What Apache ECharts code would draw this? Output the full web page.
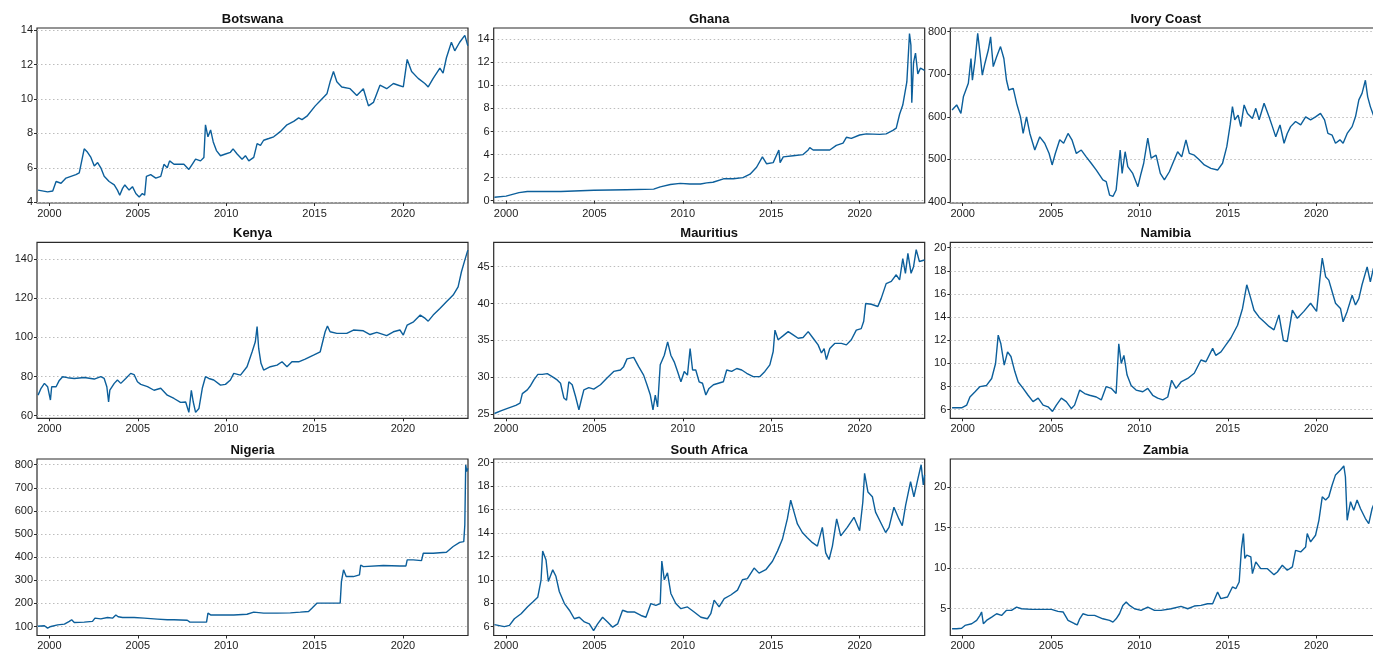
<!DOCTYPE html>
<html>
<head>
<meta charset="utf-8">
<title>Exchange rates</title>
<script src="https://cdn.jsdelivr.net/npm/echarts@6/dist/echarts.min.js"></script>
<style>
  html, body { margin: 0; padding: 0; background: #fff; }
  #main { width: 1373px; height: 652px; }
</style>
</head>
<body>
<div id="main"></div>
<script>
// [year, rate]
var botswana = [[1999.36,4.7],[1999.9,4.6],[2000.19,4.65],[2000.38,5.2],[2000.66,5.1],[2000.94,5.4],[2001.22,5.5],[2001.5,5.6],[2001.69,5.7],[2001.97,7.1],[2002.16,6.9],[2002.35,6.6],[2002.54,6.1],[2002.73,6.3],[2002.91,6.0],[2003.1,5.5],[2003.38,5.2],[2003.67,5.0],[2003.85,4.7],[2003.98,4.4],[2004.14,4.8],[2004.27,5.0],[2004.51,4.7],[2004.7,4.9],[2004.89,4.5],[2005.08,4.3],[2005.26,4.5],[2005.39,4.4],[2005.49,5.5],[2005.73,5.6],[2006.02,5.4],[2006.3,5.5],[2006.48,6.2],[2006.67,6.0],[2006.8,6.4],[2007.05,6.2],[2007.61,6.2],[2007.89,5.9],[2008.08,6.2],[2008.27,6.5],[2008.55,6.4],[2008.74,6.6],[2008.83,8.5],[2008.97,7.8],[2009.12,8.2],[2009.27,7.5],[2009.45,7.0],[2009.68,6.7],[2009.96,6.8],[2010.24,6.9],[2010.39,7.1],[2010.62,6.8],[2010.9,6.5],[2011.09,6.7],[2011.28,6.4],[2011.56,6.6],[2011.75,7.4],[2011.94,7.3],[2012.12,7.6],[2012.41,7.7],[2012.69,7.8],[2013.06,8.1],[2013.44,8.5],[2013.82,8.7],[2014.1,8.9],[2014.29,8.8],[2014.57,9.0],[2015.04,9.6],[2015.32,9.9],[2015.7,10.3],[2015.88,11.0],[2016.07,11.6],[2016.26,11.0],[2016.54,10.7],[2017.01,10.6],[2017.39,10.2],[2017.76,10.6],[2018.05,9.6],[2018.33,9.8],[2018.7,10.8],[2019.08,10.6],[2019.46,10.9],[2019.74,10.8],[2020.02,10.7],[2020.24,12.3],[2020.49,11.6],[2020.86,11.2],[2021.24,10.9],[2021.43,10.7],[2021.71,11.2],[2022.09,11.8],[2022.27,11.5],[2022.46,12.4],[2022.74,13.3],[2022.93,12.8],[2023.21,13.3],[2023.5,13.7],[2023.67,13.1]];
var ghana = [[1999.34,0.3],[2000.0,0.4],[2000.73,0.7],[2001.2,0.8],[2003.1,0.8],[2004.96,0.9],[2006.8,0.95],[2008.35,1.0],[2008.72,1.2],[2009.29,1.4],[2009.85,1.5],[2010.4,1.45],[2011.0,1.45],[2011.35,1.55],[2011.7,1.6],[2012.3,1.9],[2012.86,1.9],[2013.4,2.0],[2013.8,2.3],[2014.17,2.9],[2014.5,3.8],[2014.74,3.2],[2015.11,3.3],[2015.43,4.4],[2015.5,3.3],[2015.68,3.8],[2016.24,3.9],[2016.8,4.0],[2017.09,4.4],[2017.18,4.6],[2017.37,4.4],[2018.31,4.4],[2018.68,4.8],[2019.06,5.0],[2019.25,5.5],[2019.53,5.4],[2020.0,5.7],[2020.38,5.8],[2021.13,5.75],[2021.5,5.8],[2021.88,6.1],[2022.07,6.3],[2022.26,7.5],[2022.44,8.3],[2022.67,10.3],[2022.82,14.5],[2022.9,13.5],[2022.95,8.5],[2023.05,12.0],[2023.16,12.8],[2023.29,11.0],[2023.44,11.5],[2023.67,11.3]];
var ivoryCoast = [[1999.4,616],[1999.66,628],[1999.9,608],[2000.04,647],[2000.32,679],[2000.47,737],[2000.55,686],[2000.7,733],[2000.85,796],[2000.98,749],[2001.11,698],[2001.26,726],[2001.45,757],[2001.58,788],[2001.73,718],[2001.92,741],[2002.14,765],[2002.33,737],[2002.48,686],[2002.61,663],[2002.86,667],[2003.05,632],[2003.27,600],[2003.42,561],[2003.61,600],[2003.8,561],[2004.08,522],[2004.36,553],[2004.64,538],[2004.89,514],[2005.06,487],[2005.24,514],[2005.49,546],[2005.71,538],[2005.96,561],[2006.18,546],[2006.43,514],[2006.71,522],[2006.99,506],[2007.27,491],[2007.56,475],[2007.93,452],[2008.12,448],[2008.31,416],[2008.5,413],[2008.68,428],[2008.91,522],[2009.02,467],[2009.19,518],[2009.34,483],[2009.62,467],[2009.91,436],[2010.09,467],[2010.24,491],[2010.47,550],[2010.66,503],[2010.94,510],[2011.18,467],[2011.41,452],[2011.69,471],[2011.97,499],[2012.16,518],[2012.39,506],[2012.63,546],[2012.82,514],[2013.1,510],[2013.38,499],[2013.67,487],[2014.04,479],[2014.42,475],[2014.7,491],[2014.94,530],[2015.13,581],[2015.26,624],[2015.39,593],[2015.58,604],[2015.73,577],[2015.92,628],[2016.11,608],[2016.39,596],[2016.58,620],[2016.77,593],[2017.05,632],[2017.33,600],[2017.52,577],[2017.71,553],[2017.95,581],[2018.18,538],[2018.36,561],[2018.55,577],[2018.83,589],[2019.12,581],[2019.4,600],[2019.68,593],[2019.96,600],[2020.24,608],[2020.47,593],[2020.66,561],[2020.9,557],[2021.09,538],[2021.34,546],[2021.52,538],[2021.75,561],[2022.03,577],[2022.22,600],[2022.41,640],[2022.59,655],[2022.78,686],[2022.91,647],[2023.06,624],[2023.23,604],[2023.67,600]];
var kenya = [[1999.36,70.5],[1999.53,74],[1999.72,76.5],[1999.9,74.8],[2000.06,68],[2000.13,74.8],[2000.38,74.8],[2000.56,78],[2000.75,79.9],[2001.03,79.4],[2001.41,79],[2001.97,79.5],[2002.54,78.7],[2002.91,79.9],[2003.1,79],[2003.25,74.8],[2003.35,67],[2003.42,73],[2003.67,76.5],[2003.85,78.2],[2004.04,76.5],[2004.32,79],[2004.6,81.6],[2004.79,81],[2004.98,77.3],[2005.17,76],[2005.55,74.8],[2005.92,73],[2006.3,74],[2006.67,70.5],[2007.05,68.8],[2007.42,66.8],[2007.71,67],[2007.89,61.7],[2008.03,73],[2008.14,67],[2008.27,61.7],[2008.46,63.7],[2008.65,74],[2008.83,79.9],[2009.02,79],[2009.3,78.2],[2009.68,75.6],[2009.96,76],[2010.24,78.2],[2010.43,81.6],[2010.81,80.7],[2011.18,85],[2011.47,92.6],[2011.65,97.7],[2011.75,105.4],[2011.84,94.3],[2011.97,86.7],[2012.12,83.3],[2012.5,85],[2012.88,85.8],[2013.16,87.5],[2013.44,85],[2013.72,87.5],[2014.1,87.5],[2014.47,88.9],[2014.94,90.9],[2015.32,92.6],[2015.6,102.8],[2015.73,105.7],[2015.88,102.8],[2016.26,102],[2016.82,102],[2017.2,103.7],[2017.76,103.3],[2018.14,101.4],[2018.52,102.5],[2019.08,100.8],[2019.46,102.8],[2019.83,103.7],[2020.02,101.1],[2020.24,106.2],[2020.6,107.9],[2020.98,111.3],[2021.26,109.6],[2021.43,108.2],[2021.71,111.3],[2022.09,114.7],[2022.46,118.1],[2022.84,121.5],[2023.12,125.7],[2023.31,133.4],[2023.5,139.3],[2023.67,144.4]];
var mauritius = [[1999.34,25.1],[1999.7,25.45],[2000.08,25.8],[2000.55,26.2],[2000.79,26.5],[2000.92,27.8],[2001.2,28.3],[2001.39,28.9],[2001.58,29.7],[2001.8,30.4],[2002.05,30.4],[2002.33,30.5],[2002.61,30.1],[2002.89,29.65],[2003.08,29.2],[2003.27,27.2],[2003.42,26.9],[2003.55,29.4],[2003.74,29.0],[2003.93,27.4],[2004.12,25.6],[2004.25,26.9],[2004.4,28.3],[2004.68,28.6],[2004.96,28.4],[2005.34,29.0],[2005.71,29.9],[2006.09,30.8],[2006.47,31.0],[2006.65,31.45],[2006.84,32.5],[2007.22,32.7],[2007.5,31.45],[2007.78,30.3],[2007.97,29.0],[2008.16,27.6],[2008.31,25.6],[2008.44,27.6],[2008.57,26.0],[2008.72,31.7],[2008.95,33.0],[2009.14,34.8],[2009.32,33.0],[2009.51,32.1],[2009.7,30.8],[2009.89,29.4],[2010.08,30.8],[2010.26,30.3],[2010.41,33.9],[2010.55,31.0],[2010.73,31.0],[2010.92,29.4],[2011.11,29.2],[2011.3,27.6],[2011.48,28.5],[2011.73,29.0],[2012.01,29.2],[2012.29,29.4],[2012.48,31.0],[2012.76,30.8],[2013.05,31.2],[2013.33,31.0],[2013.61,30.55],[2013.98,30.1],[2014.36,30.1],[2014.64,30.8],[2014.92,31.7],[2015.11,33.5],[2015.21,36.4],[2015.39,35.1],[2015.68,35.65],[2015.96,36.2],[2016.24,35.75],[2016.52,35.3],[2016.8,35.4],[2017.09,36.2],[2017.37,35.3],[2017.65,34.4],[2017.84,33.3],[2017.99,33.9],[2018.12,32.4],[2018.31,33.9],[2018.59,34.6],[2018.97,34.6],[2019.25,34.4],[2019.53,35.1],[2019.81,36.4],[2020.09,36.6],[2020.23,37.6],[2020.34,40.0],[2020.66,39.9],[2021.03,39.6],[2021.22,40.7],[2021.5,42.7],[2021.79,43.0],[2022.07,43.9],[2022.26,43.2],[2022.44,46.1],[2022.59,44.1],[2022.73,46.8],[2022.91,44.1],[2023.05,45.0],[2023.2,47.3],[2023.38,45.7],[2023.67,45.9]];
var namibia = [[1999.4,6.17],[1999.94,6.17],[2000.23,6.4],[2000.41,7.1],[2000.7,7.55],[2000.98,8.0],[2001.35,8.1],[2001.64,8.7],[2001.86,10.0],[2002.01,12.45],[2002.16,11.7],[2002.35,9.85],[2002.54,11.0],[2002.73,10.6],[2002.95,9.3],[2003.14,8.4],[2003.42,7.85],[2003.7,7.25],[2003.98,6.7],[2004.27,7.0],[2004.55,6.4],[2004.83,6.25],[2005.08,5.85],[2005.3,6.4],[2005.58,7.0],[2005.86,6.7],[2006.15,6.1],[2006.33,6.4],[2006.62,7.7],[2006.9,7.4],[2007.18,7.25],[2007.56,7.1],[2007.84,6.85],[2008.12,8.0],[2008.4,7.85],[2008.68,7.4],[2008.83,11.7],[2008.97,10.0],[2009.12,10.7],[2009.3,9.0],[2009.53,8.1],[2009.81,7.7],[2010.19,7.55],[2010.47,7.85],[2010.75,7.25],[2011.03,7.0],[2011.32,6.85],[2011.6,7.1],[2011.82,8.55],[2012.07,7.85],[2012.35,8.4],[2012.73,8.7],[2013.1,9.15],[2013.48,10.3],[2013.76,10.15],[2014.14,11.3],[2014.32,10.7],[2014.61,11.0],[2014.89,11.6],[2015.17,12.2],[2015.55,13.3],[2015.83,14.75],[2016.07,16.8],[2016.3,15.6],[2016.48,14.6],[2016.77,14.0],[2017.05,13.6],[2017.33,13.2],[2017.61,12.9],[2017.89,14.2],[2018.14,12.0],[2018.36,11.9],[2018.65,14.6],[2018.93,13.9],[2019.3,14.5],[2019.68,15.2],[2020.02,14.5],[2020.21,17.35],[2020.34,19.1],[2020.53,17.5],[2020.71,17.2],[2020.9,16.2],[2021.09,15.2],[2021.37,14.75],[2021.52,13.6],[2021.75,14.5],[2022.03,15.9],[2022.22,15.05],[2022.41,15.6],[2022.59,16.8],[2022.88,18.35],[2023.06,17.05],[2023.23,18.2],[2023.5,19.1],[2023.67,18.4]];
var nigeria = [[1999.34,101],[1999.72,103],[1999.9,93],[2000.09,100],[2000.47,107],[2000.85,110],[2001.13,122],[2001.26,129],[2001.41,117],[2001.97,119],[2002.44,122],[2002.58,136],[2002.91,133],[2003.29,139],[2003.57,136],[2003.76,150],[2003.89,142],[2004.14,139],[2004.79,139],[2005.36,136],[2006.11,132],[2006.67,129],[2007.05,129],[2007.8,127],[2007.95,119],[2008.55,119],[2008.89,119],[2008.97,158],[2009.12,150],[2009.68,150],[2010.43,150],[2011.18,153],[2011.56,162],[2012.12,158],[2012.88,158],[2013.63,159],[2014.19,162],[2014.66,165],[2014.85,179],[2015.13,201],[2016.07,201],[2016.45,201],[2016.52,294],[2016.64,345],[2016.79,316],[2017.2,316],[2017.54,323],[2017.61,366],[2017.76,359],[2018.89,364],[2019.83,362],[2020.17,362],[2020.24,388],[2020.58,388],[2021.05,385],[2021.15,417],[2021.71,417],[2022.46,421],[2022.84,446],[2023.21,464],[2023.44,467],[2023.5,539],[2023.55,799],[2023.61,770],[2023.67,784]];
var southAfrica = [[1999.34,6.17],[1999.9,6.0],[2000.19,6.1],[2000.47,6.67],[2000.85,7.1],[2001.22,7.7],[2001.51,8.1],[2001.79,8.5],[2001.98,10.0],[2002.07,12.45],[2002.26,11.7],[2002.39,9.85],[2002.64,10.85],[2002.82,10.3],[2003.01,9.0],[2003.3,7.97],[2003.58,7.4],[2003.86,6.67],[2004.14,6.8],[2004.43,6.4],[2004.71,6.23],[2004.95,5.65],[2005.18,6.23],[2005.46,6.8],[2005.74,6.4],[2006.03,5.95],[2006.31,6.23],[2006.59,7.4],[2006.87,7.25],[2007.25,7.25],[2007.63,6.95],[2007.91,6.8],[2008.19,7.97],[2008.47,7.82],[2008.72,7.97],[2008.81,11.6],[2008.95,10.0],[2009.13,10.6],[2009.32,8.83],[2009.6,7.97],[2009.89,7.53],[2010.26,7.68],[2010.64,7.25],[2011.02,6.8],[2011.39,6.67],[2011.58,7.1],[2011.77,8.26],[2012.05,7.68],[2012.34,8.4],[2012.71,8.7],[2013.09,9.12],[2013.37,10.0],[2013.65,10.1],[2014.03,11.0],[2014.31,10.57],[2014.69,10.86],[2015.07,11.58],[2015.35,12.45],[2015.63,13.46],[2015.91,15.2],[2016.1,16.8],[2016.29,15.78],[2016.48,14.77],[2016.76,14.04],[2017.04,13.6],[2017.33,13.17],[2017.61,12.88],[2017.89,14.48],[2018.08,12.3],[2018.27,11.73],[2018.46,12.88],[2018.7,15.2],[2018.93,13.75],[2019.3,14.48],[2019.68,15.34],[2020.0,14.19],[2020.18,16.65],[2020.28,19.1],[2020.47,17.5],[2020.72,17.1],[2020.9,15.78],[2021.19,14.9],[2021.47,14.04],[2021.66,14.48],[2021.94,16.2],[2022.22,15.2],[2022.41,14.62],[2022.6,16.36],[2022.88,18.38],[2023.07,17.08],[2023.3,18.67],[2023.48,19.83],[2023.6,18.1],[2023.67,18.96]];
var zambia = [[1999.4,2.53],[1999.66,2.53],[1999.94,2.6],[2000.13,2.94],[2000.51,3.15],[2000.79,3.56],[2000.98,4.18],[2001.07,4.6],[2001.17,3.15],[2001.35,3.56],[2001.64,3.97],[2001.92,4.38],[2002.2,4.18],[2002.48,4.8],[2002.76,4.8],[2003.05,5.2],[2003.33,5.0],[2003.89,4.92],[2004.45,4.92],[2005.02,4.92],[2005.39,4.67],[2005.68,4.6],[2005.96,3.56],[2006.33,3.15],[2006.48,3.0],[2006.62,3.76],[2006.8,4.38],[2007.09,4.18],[2007.46,4.18],[2007.93,3.76],[2008.31,3.56],[2008.5,3.35],[2008.68,3.76],[2008.87,4.38],[2009.06,5.41],[2009.25,5.82],[2009.44,5.41],[2009.72,5.0],[2010.09,4.8],[2010.47,5.2],[2010.85,4.8],[2011.22,4.8],[2011.79,5.0],[2012.35,5.29],[2012.73,5.0],[2013.1,5.33],[2013.48,5.41],[2013.85,5.62],[2014.14,5.62],[2014.42,7.06],[2014.6,6.24],[2014.98,6.44],[2015.26,7.68],[2015.45,7.47],[2015.64,8.3],[2015.77,12.4],[2015.88,14.27],[2015.96,11.2],[2016.07,11.6],[2016.3,11.4],[2016.39,9.33],[2016.58,10.77],[2016.86,9.94],[2017.24,9.94],[2017.61,9.2],[2017.8,9.53],[2018.08,10.36],[2018.36,9.74],[2018.65,10.15],[2018.83,12.2],[2019.12,12.0],[2019.4,12.62],[2019.49,14.27],[2019.68,13.24],[2019.96,14.06],[2020.15,15.9],[2020.34,18.8],[2020.53,18.4],[2020.71,18.8],[2020.9,20.25],[2021.09,21.5],[2021.37,22.1],[2021.56,22.6],[2021.65,21.27],[2021.75,15.9],[2021.94,18.2],[2022.12,17.15],[2022.31,18.4],[2022.5,17.36],[2022.78,16.12],[2022.97,15.5],[2023.16,17.36],[2023.4,18.6],[2023.53,19.83],[2023.67,20.6]];

var yearTicks = [2000, 2005, 2010, 2015, 2020];

var botswanaTicks = [4, 6, 8, 10, 12, 14];
var ghanaTicks = [0, 2, 4, 6, 8, 10, 12, 14];
var ivoryTicks = [400, 500, 600, 700, 800];
var kenyaTicks = [60, 80, 100, 120, 140];
var mauritiusTicks = [25, 30, 35, 40, 45];
var namibiaTicks = [6, 8, 10, 12, 14, 16, 18, 20];
var nigeriaTicks = [100, 200, 300, 400, 500, 600, 700, 800];
var southAfricaTicks = [6, 8, 10, 12, 14, 16, 18, 20];
var zambiaTicks = [5, 10, 15, 20];

var panels = [
  {name: 'Botswana', data: botswana, ticks: botswanaTicks, min: 3.95, max: 14.13},
  {name: 'Ghana', data: ghana, ticks: ghanaTicks, min: -0.2, max: 14.98},
  {name: 'Ivory Coast', data: ivoryCoast, ticks: ivoryTicks, min: 397.6, max: 808.7},
  {name: 'Kenya', data: kenya, ticks: kenyaTicks, min: 58.7, max: 148.4},
  {name: 'Mauritius', data: mauritius, ticks: mauritiusTicks, min: 24.45, max: 48.3},
  {name: 'Namibia', data: namibia, ticks: namibiaTicks, min: 5.26, max: 20.47},
  {name: 'Nigeria', data: nigeria, ticks: nigeriaTicks, min: 61, max: 824.6},
  {name: 'South Africa', data: southAfrica, ticks: southAfricaTicks, min: 5.24, max: 20.32},
  {name: 'Zambia', data: zambia, ticks: zambiaTicks, min: 1.7, max: 23.46}
];

var colLeft = [37, 493.7, 950.3];
var colWidth = 431;
var rowTop = [28, 242.3, 459];
var rowHeight = [175, 176, 176.5];

var lineColor = '#0c5f9b';
var textColor = '#1c1c1c';
var fontFam = '"Liberation Sans", Arial, sans-serif';

var grids = [], xAxes = [], yAxes = [], series = [], titles = [];
panels.forEach(function (p, i) {
  var col = i % 3, row = Math.floor(i / 3);
  grids.push({
    left: colLeft[col], top: rowTop[row], width: colWidth, height: rowHeight[row],
    outerBoundsMode: 'none', containLabel: false,
    show: true, borderColor: '#2b2b2b', borderWidth: 1.2, backgroundColor: 'transparent'
  });
  xAxes.push({
    type: 'value', gridIndex: i, min: 1999.3, max: 2023.68,
    axisLine: {show: false},
    axisTick: {show: true, customValues: yearTicks, length: 3, lineStyle: {color: '#2b2b2b'}},
    axisLabel: {
      customValues: yearTicks, color: textColor, fontSize: 11, fontFamily: fontFam, margin: 5,
      formatter: function (v) { return String(v); }
    },
    splitLine: {show: false}
  });
  yAxes.push({
    type: 'value', gridIndex: i, min: p.min, max: p.max,
    axisLine: {show: false},
    axisTick: {show: true, customValues: p.ticks, length: 3, lineStyle: {color: '#2b2b2b'}},
    axisLabel: {customValues: p.ticks, color: textColor, fontSize: 11, fontFamily: fontFam, margin: 4},
    splitLine: {show: true, lineStyle: {color: '#bdbdbd', type: [1.5, 2.5], width: 1}}
  });
  series.push({
    type: 'line', xAxisIndex: i, yAxisIndex: i, data: p.data,
    showSymbol: false, symbol: 'none',
    lineStyle: {color: lineColor, width: 1.4},
    itemStyle: {color: lineColor}
  });
  titles.push({
    type: 'text',
    x: colLeft[col] + colWidth / 2, y: rowTop[row] - 9,
    style: {
      text: p.name, fill: '#111', font: 'bold 13px ' + fontFam,
      align: 'center', verticalAlign: 'middle'
    }
  });
});

var myChart = echarts.init(document.getElementById('main'));
myChart.setOption({
  animation: false,
  grid: grids,
  xAxis: xAxes,
  yAxis: yAxes,
  series: series,
  graphic: titles
});
</script>
</body>
</html>
